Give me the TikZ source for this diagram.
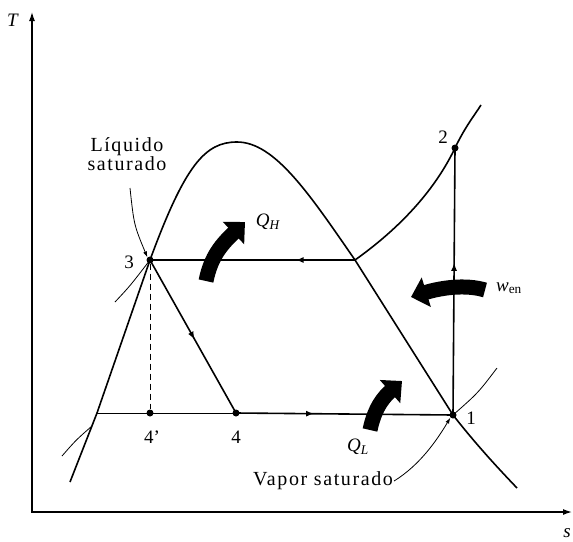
\documentclass[tikz,border=0pt]{standalone}
\usepackage{fontspec}
\setmainfont{Liberation Serif}
\usetikzlibrary{arrows.meta,decorations.markings}

\begin{document}
\begin{tikzpicture}[
    x=1pt, y=-1pt,
    font=\fontsize{19}{22}\selectfont,
    axis/.style={line width=1.3pt},
    curve/.style={line width=1.6pt},
    thin/.style={line width=0.8pt},
    dot/.style={circle, fill, inner sep=0pt, minimum size=7pt},
    lbl/.style={inner sep=1pt},
    wide/.style={lbl, font=\fontsize{20}{23}\selectfont\addfontfeature{LetterSpace=8}},
    fat/.style={line width=15pt, -{Triangle[width=30pt,length=16pt]}},
    flow/.style={postaction={decorate}, decoration={markings,
        mark=at position #1 with {\arrow{Latex[length=8pt,width=6pt]}}}}
]
    \useasboundingbox (0,0) rectangle (573,541);

    % Axes
    \coordinate (origin) at (32,512);
    \coordinate (ttop) at (32,12);
    \coordinate (send) at (572,512);
    \draw[axis, {Latex[length=9pt,width=6pt]}-{Latex[length=9pt,width=6pt]}] (ttop) -- (origin) -- (send);
    \node[lbl] (tlabel) at (13,20) {\textit{T}};
    \node[lbl] (slabel) at (567,533) {\textit{s}};

    % States
    \node[dot] (n3) at (150,260) {};
    \node[dot] (n4p) at (150,413) {};
    \node[dot] (n4) at (236,413) {};
    \node[dot] (n1) at (453,415) {};
    \node[dot] (n2) at (455,148) {};
    \coordinate (sv) at (355,260);
    \coordinate (sl) at (97,413);

    % Saturation dome
    \draw[curve] (70,482) -- (sl) -- (n3.center) .. controls (185,165) and (205,142) .. (237,142)
        .. controls (275,142) and (310,195) .. (sv) -- (n1.center)
        .. controls (475,443) and (495,465) .. (517,488);

    % Isobars
    \draw[curve] (sv) .. controls (400,228) and (435,190) .. (n2.center)
        .. controls (465,127) and (474,116) .. (481,105);
    \draw[thin] (115,302) .. controls (130,286) .. (n3.center);
    \draw[thin] (62,456) .. controls (76,440) .. (92,426);
    \draw[thin] (n1.center) .. controls (478,393) .. (497,368);

    % Cycle
    \draw[curve, flow=0.29] (sv) -- (n3.center);
    \draw[curve, flow=0.52] (n3.center) -- (n4.center);
    \draw[thin] (sl) -- (n4.center);
    \draw[curve, flow=0.36] (n4.center) -- (n1.center);
    \draw[curve, flow=0.57] (n1.center) -- (n2.center);
    \draw[thin, dashed, dash pattern=on 6pt off 4pt] (n3) -- (n4p);

    % State labels
    \node[lbl] (l3) at (129,262) {3};
    \node[lbl] (l4p) at (152,437) {4'};
    \node[lbl] (l4) at (236,437) {4};
    \node[lbl] (l1) at (471,418) {1};
    \node[lbl] (l2) at (443,137) {2};

    % Saturation labels
    \node[wide, align=center] (liq) at (127,154) {Líquido\\[-4pt]saturado};
    \node[wide] (vap) at (323,481) {Vapor saturado};
    \draw[thin, -{Latex[length=6pt,width=4pt]}] (130,188) .. controls (134,225) .. (n3.north west);
    \draw[thin, -{Latex[length=6pt,width=4pt]}] (vap.east) .. controls (420,465) and (437,440) .. (n1.south west);

    % Heat and work
    \draw[fat] (206,281) .. controls (211,256) and (222,244) .. (245,222);
    \node[lbl] (qh) at (268,222) {\textit{Q}\textsubscript{\textit{H}}};
    \draw[fat] (370,430) .. controls (375,406) and (385,396) .. (402,381);
    \node[lbl] (ql) at (358,447) {\textit{Q}\textsubscript{\textit{L}}};
    \draw[fat] (485,290) .. controls (465,284) and (440,288) .. (411,297);
    \node[lbl] (win) at (509,288) {\textit{w}\textsubscript{en}};
\end{tikzpicture}
\end{document}
